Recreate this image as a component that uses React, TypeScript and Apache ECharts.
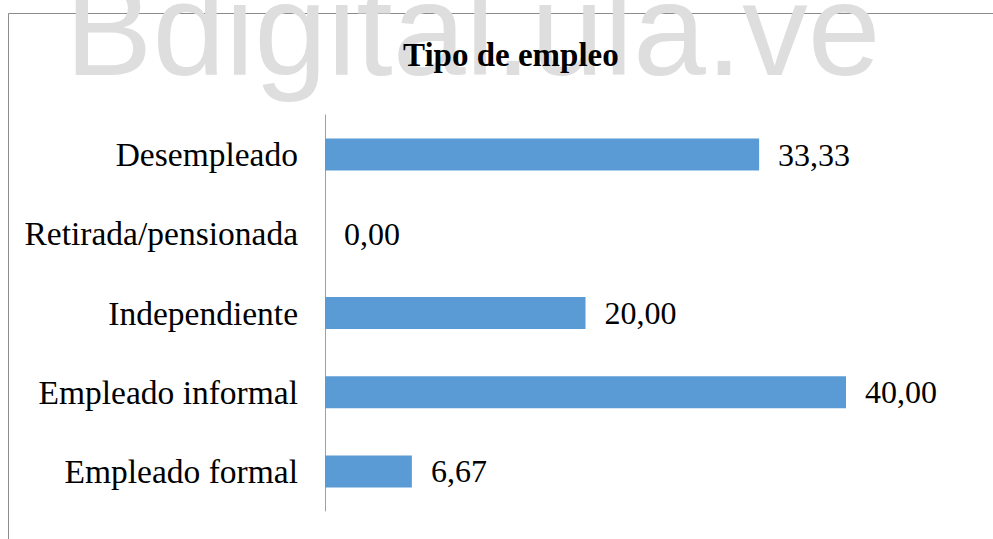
import React, { useEffect, useRef } from "react";
import * as echarts from "echarts";

const categories = [
  "Empleado formal",
  "Empleado informal",
  "Independiente",
  "Retirada/pensionada",
  "Desempleado",
];
const values = [6.67, 40.0, 20.0, 0.0, 33.33];
const titleText = "Tipo de empleo";
const watermarkText = "Bdigital.ula.ve";

export default function App() {
  const ref = useRef<HTMLDivElement>(null);
  useEffect(() => {
    if (!ref.current) return;
    const chart = echarts.init(ref.current, null, { renderer: "svg" });
    const serif = "'Liberation Serif', 'Times New Roman', serif";
    chart.setOption({
      animation: false,
      backgroundColor: "#ffffff",
      title: {
        text: titleText,
        left: 398,
        top: 33,
        textStyle: {
          fontFamily: serif,
          fontWeight: "bold",
          fontSize: 33,
          color: "#000000",
        },
      },
      graphic: [
        {
          type: "line",
          z: 0,
          shape: { x1: 8.5, y1: 13.5, x2: 1100, y2: 13.5 },
          style: { stroke: "#8c8c8c", lineWidth: 1 },
        },
        {
          type: "line",
          z: 0,
          shape: { x1: 8.5, y1: 13.5, x2: 8.5, y2: 700 },
          style: { stroke: "#8c8c8c", lineWidth: 1 },
        },
        {
          type: "text",
          z: 1,
          x: 65,
          y: 29,
          style: {
            text: watermarkText,
            font: "131px 'Liberation Sans', Arial, sans-serif",
            fill: "#dedede",
            verticalAlign: "middle",
            align: "left",
          },
        },
      ],
      grid: { left: 325, top: 115, width: 521, height: 396, containLabel: false },
      xAxis: {
        type: "value",
        min: 0,
        max: 40,
        show: false,
      },
      yAxis: {
        type: "category",
        data: categories,
        axisLine: { show: true, lineStyle: { color: "#a0a0a0", width: 1 } },
        axisTick: { show: false },
        axisLabel: {
          margin: 27,
          fontFamily: serif,
          fontSize: 33.5,
          color: "#000000",
        },
      },
      series: [
        {
          type: "bar",
          data: values,
          barWidth: 32,
          itemStyle: { color: "#5b9bd5" },
          label: {
            show: true,
            position: "right",
            distance: 19,
            fontFamily: serif,
            fontSize: 32,
            color: "#000000",
            formatter: (p: any) => Number(p.value).toFixed(2).replace(".", ","),
          },
        },
      ],
    });
    return () => chart.dispose();
  }, []);
  return (
    <div
      ref={ref}
      style={{ position: "fixed", left: 0, top: 0, width: 993, height: 539 }}
    />
  );
}
